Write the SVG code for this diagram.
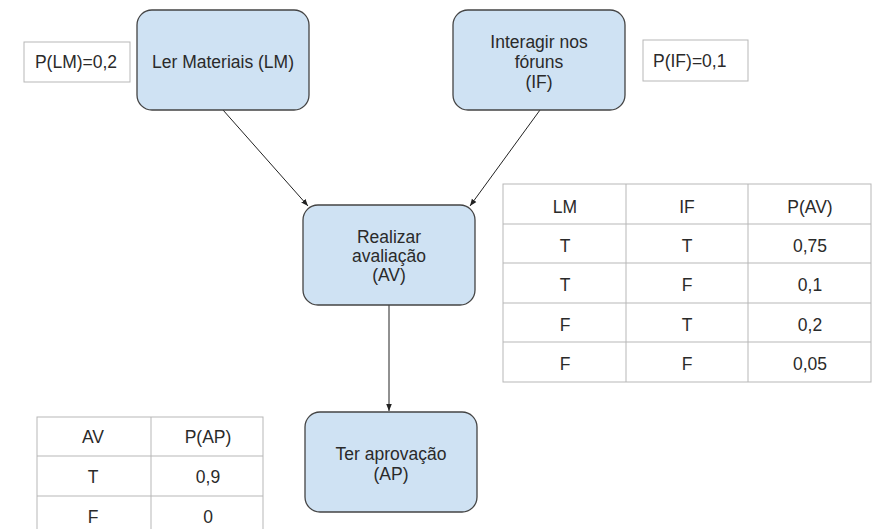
<svg xmlns="http://www.w3.org/2000/svg" width="877" height="529" viewBox="0 0 877 529">
<style>
.node{fill:#cfe2f3;stroke:#444;stroke-width:1.3}
.box{fill:#fff;stroke:#b7b7b7;stroke-width:1}
.grid{stroke:#b7b7b7;stroke-width:1;fill:none}
text{font-family:"Liberation Sans",Arial,sans-serif;font-size:17.5px;fill:#2a2a2a;text-anchor:middle}
.edge{stroke:#222;stroke-width:1;fill:none;marker-end:url(#arr)}
</style>
<defs>
<marker id="arr" viewBox="0 0 10 10" refX="10" refY="5" markerWidth="7" markerHeight="7" markerUnits="userSpaceOnUse" orient="auto">
<path d="M0,1 L10,5 L0,9 z" fill="#222"/>
</marker>
</defs>
<rect width="877" height="529" fill="#fff"/>
<g id="connectors">
<line class="edge" x1="223" y1="110" x2="308" y2="206"/>
<line class="edge" x1="540" y1="110" x2="470" y2="206"/>
<line class="edge" x1="389" y1="305" x2="389" y2="411"/>
</g>
<g id="node-LM">
<rect class="node" x="137" y="10" width="172" height="100" rx="15"/>
<text x="223" y="68">Ler Materiais (LM)</text>
</g>
<g id="prob-LM">
<rect class="box" x="24" y="42" width="106" height="40"/>
<text x="76" y="68">P(LM)=0,2</text>
</g>
<g id="node-IF">
<rect class="node" x="453" y="10" width="172" height="100" rx="15"/>
<text x="539" y="48">Interagir nos</text>
<text x="539" y="68">fóruns</text>
<text x="539" y="88">(IF)</text>
</g>
<g id="prob-IF">
<rect class="box" x="643" y="40" width="105" height="41"/>
<text x="653" y="67" style="text-anchor:start">P(IF)=0,1</text>
</g>
<g id="node-AV">
<rect class="node" x="303" y="205" width="172" height="100" rx="15"/>
<text x="389" y="243">Realizar</text>
<text x="389" y="262">avaliação</text>
<text x="389" y="281">(AV)</text>
</g>
<g id="node-AP">
<rect class="node" x="305" y="412" width="172" height="100" rx="15"/>
<text x="391" y="460">Ter aprovação</text>
<text x="391" y="480">(AP)</text>
</g>
<g id="table-AV">
<rect class="grid" x="503" y="184" width="368" height="198"/>
<path class="grid" d="M626,184V382M748,184V382M503,224H871M503,263H871M503,303H871M503,342H871"/>
<text x="565" y="213">LM</text><text x="687" y="213">IF</text><text x="810" y="213">P(AV)</text>
<text x="565" y="252">T</text><text x="687" y="252">T</text><text x="810" y="252">0,75</text>
<text x="565" y="291">T</text><text x="687" y="291">F</text><text x="810" y="291">0,1</text>
<text x="565" y="331">F</text><text x="687" y="331">T</text><text x="810" y="331">0,2</text>
<text x="565" y="370">F</text><text x="687" y="370">F</text><text x="810" y="370">0,05</text>
</g>
<g id="table-AP">
<rect class="grid" x="37" y="417" width="226" height="118"/>
<path class="grid" d="M151,417V535M37,456H263M37,496H263"/>
<text x="93" y="443">AV</text><text x="208" y="443">P(AP)</text>
<text x="93" y="483">T</text><text x="208" y="483">0,9</text>
<text x="93" y="523">F</text><text x="208" y="523">0</text>
</g>
</svg>
